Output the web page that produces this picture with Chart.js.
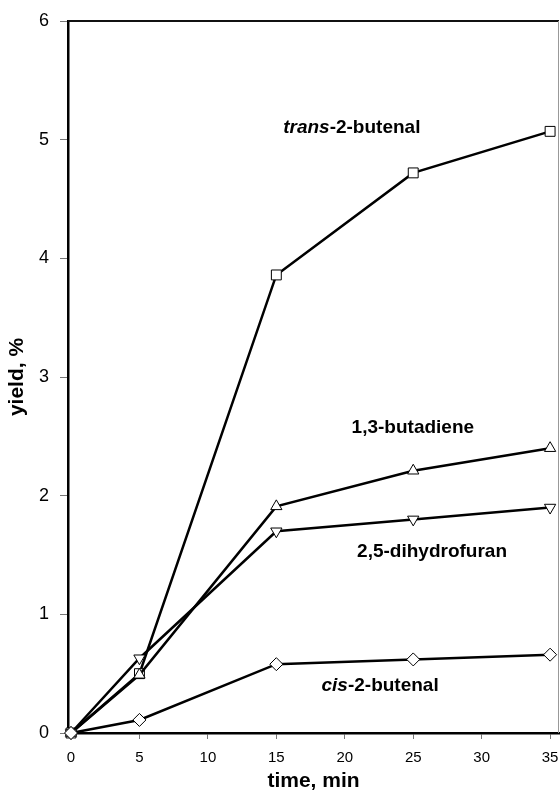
<!DOCTYPE html>
<html>
<head>
<meta charset="utf-8">
<script src="https://cdn.jsdelivr.net/npm/chart.js@4/dist/chart.umd.min.js"></script>
<style>
  html, body { margin: 0; padding: 0; background: #fff; }
  #wrap { width: 560px; height: 797px; }
</style>
</head>
<body>
<div id="wrap"><canvas id="yieldChart" width="560" height="797"></canvas></div>
<script>
// --- data ---
const times = [0, 5, 15, 25, 35];
const transButenal = [0, 0.5, 3.86, 4.72, 5.07];
const butadiene = [0, 0.49, 1.91, 2.21, 2.40];
const dihydrofuran = [0, 0.63, 1.70, 1.80, 1.90];
const cisButenal = [0, 0.11, 0.58, 0.62, 0.66];

const xTicks = [0, 5, 10, 15, 20, 25, 30, 35];
const yTicks = [0, 1, 2, 3, 4, 5, 6];

// curve labels: [prefix (italic), rest, x, y] in data units (left / middle anchor)
const curveLabels = [
  ['trans', '-2-butenal', 15.5, 5.1],
  ['', '1,3-butadiene', 20.5, 2.57],
  ['', '2,5-dihydrofuran', 20.9, 1.525],
  ['cis', '-2-butenal', 18.3, 0.395]
];

const FONT = 'Arial, "Liberation Sans", Helvetica, sans-serif';

function series(values) {
  return times.map((t, i) => ({ x: t, y: values[i] }));
}

function mkDataset(label, values, style, rotation) {
  return {
    label: label,
    data: series(values),
    borderColor: '#000',
    borderWidth: 2.5,
    pointStyle: style,
    pointRotation: rotation || 0,
    pointRadius: style === 'rect' ? 7 : 6.5,
    pointBackgroundColor: '#fff',
    pointBorderColor: '#000',
    pointBorderWidth: 1,
    tension: 0,
    clip: false
  };
}

// frame on top / right + the curve names
const framePlugin = {
  id: 'frame',
  afterDatasetsDraw(chart) {
    const { ctx, chartArea: a, scales } = chart;
    ctx.save();
    ctx.strokeStyle = '#111';
    ctx.lineWidth = 2;
    ctx.beginPath();
    ctx.moveTo(a.left, a.top);
    ctx.lineTo(a.right, a.top);
    ctx.stroke();
    ctx.strokeStyle = '#999';
    ctx.lineWidth = 1;
    ctx.beginPath();
    ctx.moveTo(a.right - 0.5, a.top);
    ctx.lineTo(a.right - 0.5, a.bottom);
    ctx.stroke();

    ctx.fillStyle = '#000';
    ctx.textBaseline = 'middle';
    ctx.textAlign = 'left';
    curveLabels.forEach(([ital, rest, x, y]) => {
      let px = scales.x.getPixelForValue(x);
      const py = scales.y.getPixelForValue(y);
      if (ital) {
        ctx.font = 'italic bold 19px ' + FONT;
        ctx.fillText(ital, px, py);
        px += ctx.measureText(ital).width;
      }
      ctx.font = 'bold 19px ' + FONT;
      ctx.fillText(rest, px, py);
    });
    ctx.restore();
  }
};

function initChart() {
  const ctx = document.getElementById('yieldChart').getContext('2d');
  new Chart(ctx, {
    type: 'line',
    data: {
      datasets: [
        mkDataset('cis-2-butenal', cisButenal, 'rectRot'),
        mkDataset('2,5-dihydrofuran', dihydrofuran, 'triangle', 180),
        mkDataset('1,3-butadiene', butadiene, 'triangle'),
        mkDataset('trans-2-butenal', transButenal, 'rect')
      ]
    },
    options: {
      responsive: false,
      animation: false,
      layout: { autoPadding: false, padding: { top: 21, right: 1, left: 0, bottom: 0 } },
      plugins: { legend: { display: false }, tooltip: { enabled: false } },
      scales: {
        x: {
          type: 'linear',
          min: -0.22,
          max: 35.65,
          afterFit: s => { s.height = 64; s.paddingLeft = 0; s.paddingRight = 0; },
          afterBuildTicks: s => { s.ticks = xTicks.map(v => ({ value: v })); },
          grid: { drawOnChartArea: false, drawTicks: true, tickLength: 6, tickColor: '#777', tickWidth: 1 },
          border: { display: true, color: '#000', width: 2.5 },
          ticks: { color: '#000', padding: 10, maxRotation: 0, font: { family: FONT, size: 15 } },
          title: {
            display: true,
            text: 'time, min',
            color: '#000',
            font: { family: FONT, size: 21, weight: 'bold' },
            padding: { top: 0, bottom: 3 }
          }
        },
        y: {
          type: 'linear',
          min: 0,
          max: 6,
          afterFit: s => { s.width = 68; s.paddingTop = 0; s.paddingBottom = 0; },
          afterBuildTicks: s => { s.ticks = yTicks.map(v => ({ value: v })); },
          grid: { drawOnChartArea: false, drawTicks: true, tickLength: 8, tickColor: '#777', tickWidth: 1 },
          border: { display: true, color: '#000', width: 2.5 },
          ticks: { color: '#000', padding: 11, font: { family: FONT, size: 18 } },
          title: {
            display: true,
            text: 'yield, %',
            color: '#000',
            font: { family: FONT, size: 21, weight: 'bold' },
            padding: { top: 5, bottom: 0 }
          }
        }
      }
    },
    plugins: [framePlugin]
  });
}

document.addEventListener('DOMContentLoaded', () => {
  initChart();
});
</script>
</body>
</html>
